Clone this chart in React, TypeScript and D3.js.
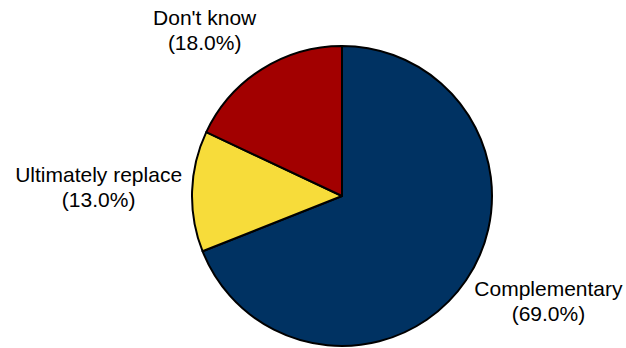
import React from "react";
import * as d3 from "d3";

const categories = ["Complementary", "Ultimately replace", "Don't know"];
const values = [69.0, 13.0, 18.0];
const colors = ["#003262", "#F7DC3A", "#A20000"];

const W = 626;
const H = 348;
const FONT = "Liberation Sans, Arial, sans-serif";
const FS = 21;
const LH = 25;

function measure(text: string): number {
  const c = document.createElement("canvas").getContext("2d");
  if (!c) return text.length * FS * 0.5;
  c.font = `${FS}px ${FONT}`;
  return c.measureText(text).width;
}

export default function App() {
  const cx = 342;
  const cy = 196;
  const r = 150;
  const pie = d3.pie<number>().value((d) => d).sort(null);
  const arcs = pie(values);
  const arc = d3.arc<d3.PieArcDatum<number>>().innerRadius(0).outerRadius(r);
  const labelR = r + 10;
  const blockH = 45;

  return (
    <svg
      width={W}
      height={H}
      style={{ position: "absolute", left: 0, top: 0, background: "#fff" }}
      fontFamily={FONT}
    >
      <g transform={`translate(${cx},${cy})`}>
        {arcs.map((a, i) => (
          <path
            key={i}
            d={arc(a) || ""}
            fill={colors[i]}
            stroke="#000"
            strokeWidth={2}
            strokeLinejoin="round"
          />
        ))}
      </g>
      {arcs.map((a, i) => {
        const mid = (a.startAngle + a.endAngle) / 2;
        const s = Math.sin(mid);
        const c = Math.cos(mid);
        const ax = cx + labelR * s;
        const ay = cy - labelR * c;
        const line1 = categories[i];
        const line2 = `(${values[i].toFixed(1)}%)`;
        const w = Math.max(measure(line1), measure(line2));
        const xc = ax + Math.sign(s) * (w / 2);
        const k = c * 1.45;
        const yc = ay - k * (blockH / 2);
        const b1 = yc - 8;
        return (
          <text key={i} textAnchor="middle" fontSize={FS} fill="#000">
            <tspan x={xc} y={b1}>{line1}</tspan>
            <tspan x={xc} y={b1 + LH}>{line2}</tspan>
          </text>
        );
      })}
    </svg>
  );
}
